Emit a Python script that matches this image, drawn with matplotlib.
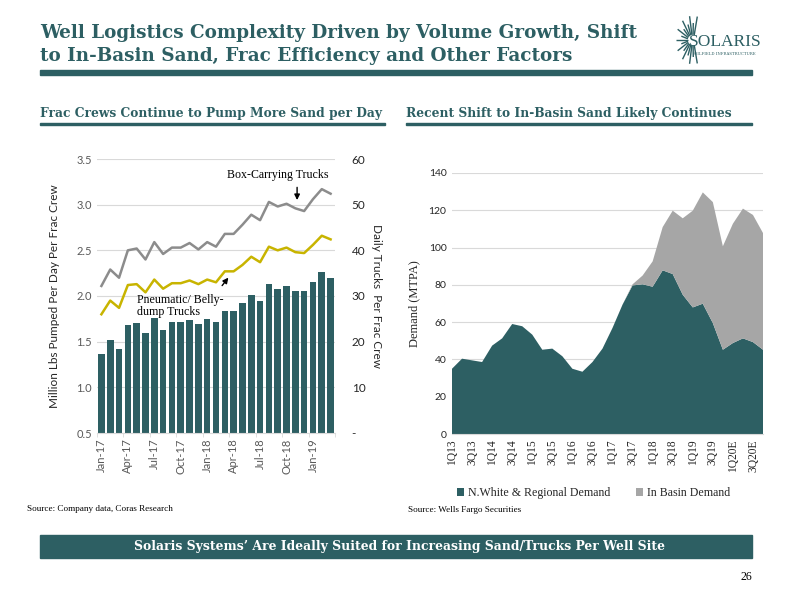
import numpy as np
import matplotlib.pyplot as plt
from matplotlib.patches import Rectangle

# Colores
teal = '#2d5f63'
gris_area = '#a6a6a6'
gris_linea = '#8c8c8c'
amarillo = '#c8b400'

# Grafico izquierdo: datos mensuales ene-17 a mar-19
meses = ['Jan-17', 'Feb-17', 'Mar-17', 'Apr-17', 'May-17', 'Jun-17', 'Jul-17', 'Aug-17', 'Sep-17',
         'Oct-17', 'Nov-17', 'Dec-17', 'Jan-18', 'Feb-18', 'Mar-18', 'Apr-18', 'May-18', 'Jun-18',
         'Jul-18', 'Aug-18', 'Sep-18', 'Oct-18', 'Nov-18', 'Dec-18', 'Jan-19', 'Feb-19', 'Mar-19']
lbs_por_dia = [1.36, 1.52, 1.42, 1.68, 1.70, 1.60, 1.76, 1.63, 1.71, 1.71, 1.74, 1.69, 1.75, 1.72,
               1.84, 1.84, 1.92, 2.01, 1.95, 2.13, 2.08, 2.11, 2.06, 2.05, 2.15, 2.26, 2.20]
camiones_caja = [32.2, 35.8, 34.0, 40.0, 40.4, 38.0, 41.8, 39.2, 40.6, 40.6, 41.6, 40.2, 41.8, 40.8,
                 43.6, 43.6, 45.6, 47.8, 46.6, 50.6, 49.6, 50.2, 49.2, 48.6, 51.2, 53.4, 52.4]
camiones_neumaticos = [26.0, 29.0, 27.4, 32.4, 32.6, 30.8, 33.6, 31.6, 32.8, 32.8, 33.4, 32.6, 33.6, 33.0,
                       35.4, 35.4, 36.8, 38.6, 37.4, 40.8, 40.0, 40.6, 39.6, 39.4, 41.2, 43.2, 42.4]

# Grafico derecho: demanda trimestral
trimestres = ['1Q13', '2Q13', '3Q13', '4Q13', '1Q14', '2Q14', '3Q14', '4Q14', '1Q15', '2Q15', '3Q15',
              '4Q15', '1Q16', '2Q16', '3Q16', '4Q16', '1Q17', '2Q17', '3Q17', '4Q17', '1Q18', '2Q18',
              '3Q18', '4Q18', '1Q19', '2Q19', '3Q19', '4Q19', '1Q20E', '2Q20E', '3Q20E', '4Q20E']
demanda_regional = [35.0, 40.4, 39.5, 38.6, 47.4, 51.3, 59.0, 57.8, 53.3, 45.2, 45.8, 41.7, 35.0, 33.4,
                    38.6, 45.8, 56.9, 69.4, 79.7, 80.3, 79.0, 87.8, 85.8, 74.7, 67.9, 69.9, 59.5, 45.2,
                    48.8, 51.3, 49.3, 45.2]
demanda_in_basin = [0, 0, 0, 0, 0, 0, 0, 0, 0, 0, 0, 0, 0, 0, 0, 0, 0, 0, 0.6, 4.7, 13.6, 23.2, 34.0,
                    41.0, 51.9, 59.7, 64.9, 55.5, 64.0, 69.6, 68.2, 62.6]

fig = plt.figure(figsize=(8, 6), dpi=100)
W, H = 800.0, 600.0


def fx(px):
    return px / W


def fy(py):
    return 1 - py / H


serif = 'DejaVu Serif'
sans = 'Lato'
lib_serif = 'Liberation Serif'

# Titulo
fig.text(fx(40), fy(33), 'Well Logistics Complexity Driven by Volume Growth, Shift',
         fontsize=13.2, fontweight='bold', color=teal, family=serif, va='center')
fig.text(fx(40), fy(56), 'to In-Basin Sand, Frac Efficiency and Other Factors',
         fontsize=13.2, fontweight='bold', color=teal, family=serif, va='center')
fig.patches.append(Rectangle((fx(40), fy(75)), fx(752) - fx(40), 5 / H,
                             transform=fig.transFigure, color=teal, zorder=3))

# Logo
ax_logo = fig.add_axes([fx(664), fy(66), 34 / W, 52 / H])
ax_logo.set_xlim(-1, 1)
ax_logo.set_ylim(-1.5, 1.5)
ax_logo.axis('off')
angulos = np.linspace(75, 285, 17)
for i, a in enumerate(angulos):
    r = 1.0 if i % 2 == 0 else 0.7
    c, s = np.cos(np.radians(a)), np.sin(np.radians(a))
    ax_logo.plot([0.3 * c + 0.7, r * c + 0.7], [0.3 * s, r * 1.4 * s],
                 color=teal, lw=1.0, solid_capstyle='butt')
fig.text(fx(725), fy(42), 'SOLARIS', fontsize=12.5, color=teal, family=lib_serif, va='center',
         ha='center')
fig.text(fx(725), fy(54), 'OILFIELD INFRASTRUCTURE', fontsize=2.8, color=teal, family=serif,
         va='center', ha='center')

# Subtitulos
fig.text(fx(40), fy(114), 'Frac Crews Continue to Pump More Sand per Day', fontsize=8.8,
         fontweight='bold', color=teal, family=serif, va='center')
fig.patches.append(Rectangle((fx(40), fy(125)), fx(385) - fx(40), 2.5 / H,
                             transform=fig.transFigure, color=teal))
fig.text(fx(406), fy(114), 'Recent Shift to In-Basin Sand Likely Continues', fontsize=8.8,
         fontweight='bold', color=teal, family=serif, va='center')
fig.patches.append(Rectangle((fx(406), fy(125)), fx(752) - fx(406), 2.5 / H,
                             transform=fig.transFigure, color=teal))

# --- Grafico izquierdo ---
ax1 = fig.add_axes([fx(97), fy(433), (335 - 97) / W, (433 - 159) / H])
x = np.arange(len(meses))
ax1.bar(x, lbs_por_dia, width=0.75, color=teal, zorder=2)
ax1.set_ylim(0.5, 3.5)
ax1.set_xlim(-0.5, len(meses) - 0.5)
ax1.set_yticks(np.arange(0.5, 3.51, 0.5))
ax1.set_yticklabels(['%.1f' % v for v in np.arange(0.5, 3.51, 0.5)], fontsize=8, color='#595959',
                    family=sans)
ax1.yaxis.grid(True, color='#d9d9d9', lw=0.8)
ax1.set_axisbelow(True)
ax1.set_xticks(x[::3])
ax1.set_xticklabels(meses[::3], rotation=90, fontsize=8, color='#595959', family=sans)
ax1.set_xticks(np.arange(-0.5, len(meses), 3), minor=True)
ax1.tick_params(axis='x', which='major', length=0, pad=4)
ax1.tick_params(axis='x', which='minor', length=3, color='#d9d9d9')
ax1.tick_params(axis='y', length=0)
for s in ['top', 'right', 'left']:
    ax1.spines[s].set_visible(False)
ax1.spines['bottom'].set_color('#d9d9d9')
ax1.set_ylabel('Million Lbs Pumped Per Day Per Frac Crew', fontsize=8.5, family=sans, color='#262626',
               labelpad=12)

ax2 = ax1.twinx()
ax2.plot(x, camiones_caja, color=gris_linea, lw=1.8, zorder=3)
ax2.plot(x, camiones_neumaticos, color=amarillo, lw=1.8, zorder=3)
ax2.set_ylim(0, 60)
ax2.set_yticks(np.arange(0, 61, 10))
ax2.set_yticklabels(['-', '10', '20', '30', '40', '50', '60'], fontsize=8.5, color='#262626', family=sans)
ax2.tick_params(axis='y', length=0, pad=12)
for s in ['top', 'right', 'left', 'bottom']:
    ax2.spines[s].set_visible(False)
ax2.set_ylabel('Daily Trucks  Per Frac Crew', fontsize=8.5, family=sans, color='#262626',
               rotation=-90, labelpad=12)

ax2.annotate('', xy=(22.2, 50.4), xytext=(22.2, 54.4),
             arrowprops=dict(arrowstyle='-|>', color='black', lw=1, mutation_scale=8))
ax2.text(20.0, 56.6, 'Box-Carrying Trucks', fontsize=8.6, family=lib_serif, ha='center',
         va='center')
ax2.annotate('', xy=(14.6, 34.5), xytext=(13.5, 31.8),
             arrowprops=dict(arrowstyle='-|>', color='black', lw=1, mutation_scale=8))
ax2.text(4.0, 27.8, 'Pneumatic/ Belly-\ndump Trucks', fontsize=8.6, family=lib_serif,
         ha='left', va='center', linespacing=1.05)

fig.text(fx(27), fy(509), 'Source: Company data, Coras Research', fontsize=6.6, family=lib_serif,
         va='center')

# --- Grafico derecho ---
ax3 = fig.add_axes([fx(452), fy(434), (763 - 452) / W, (434 - 173) / H])
xq = np.arange(len(trimestres))
ax3.stackplot(xq, demanda_regional, demanda_in_basin, colors=[teal, gris_area],
              labels=['N.White & Regional Demand', 'In Basin Demand'], zorder=2)
ax3.set_xlim(0, len(trimestres) - 1)
ax3.set_ylim(0, 140)
ax3.set_yticks(np.arange(0, 141, 20))
ax3.set_yticklabels([str(v) for v in range(0, 141, 20)], fontsize=7.5, color='#262626', family=sans)
ax3.yaxis.grid(True, color='#d9d9d9', lw=0.8)
ax3.set_axisbelow(True)
ax3.set_xticks(xq[::2])
ax3.set_xticklabels(trimestres[::2], rotation=90, fontsize=8.3, family=lib_serif, color='#262626')
ax3.tick_params(axis='both', length=0, pad=4)
for s in ['top', 'right', 'left']:
    ax3.spines[s].set_visible(False)
ax3.spines['bottom'].set_color('#d9d9d9')
ax3.set_ylabel('Demand (MTPA)', fontsize=9, family=lib_serif, color='#262626', labelpad=6)
leg = ax3.legend(loc='upper center', bbox_to_anchor=(0.455, -0.163), ncol=2, frameon=False,
                 prop={'family': lib_serif, 'size': 8.6}, handlelength=0.6, handleheight=0.6,
                 columnspacing=2.2, handletextpad=0.3)
for t in leg.get_texts():
    t.set_color('#262626')

fig.text(fx(408), fy(510), 'Source: Wells Fargo Securities', fontsize=6.6, family=lib_serif,
         va='center')

# Banner inferior
fig.patches.append(Rectangle((fx(40), fy(558)), fx(752) - fx(40), 23 / H,
                             transform=fig.transFigure, color=teal))
fig.text(fx(400), fy(546.5), 'Solaris Systems\u2019 Are Ideally Suited for Increasing Sand/Trucks Per Well Site',
         fontsize=8.9, fontweight='bold', color='white', family=serif, ha='center', va='center')
fig.text(fx(752), fy(577), '26', fontsize=8.5, family=lib_serif, ha='right', va='center')

fig.savefig('out.png', dpi=100)
